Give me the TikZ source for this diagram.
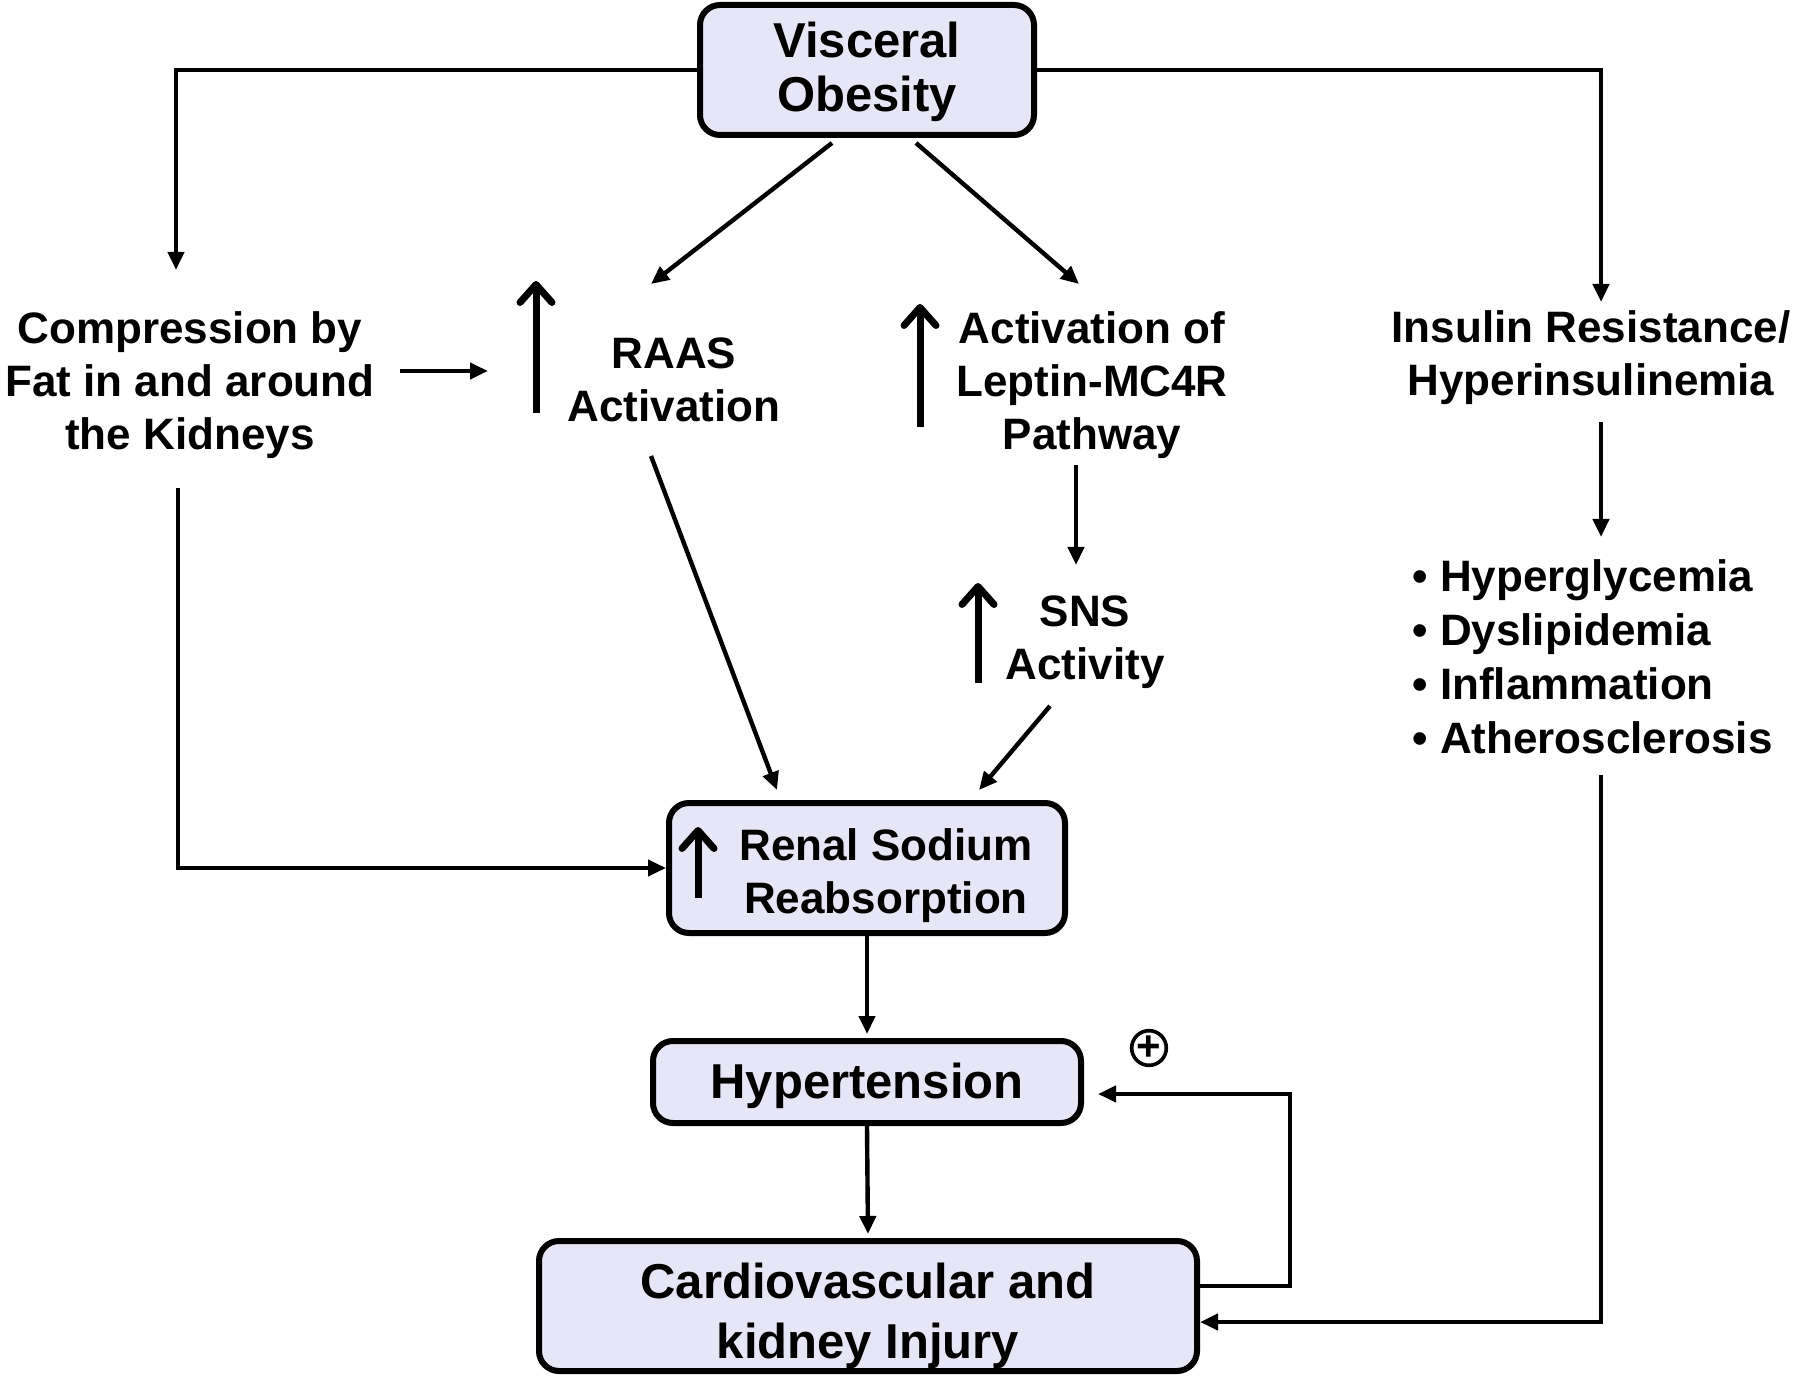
\documentclass[tikz,border=0pt]{standalone}
\usepackage{fontspec}
\setmainfont{Liberation Sans}
\usetikzlibrary{calc}
\usetikzlibrary{arrows.meta}
\definecolor{boxfill}{HTML}{E6E6F6}
\tikzset{
  box/.style={draw, line width=3pt, rounded corners=10pt, fill=boxfill, align=center, inner sep=0pt, font=\fontsize{24.5}{27}\selectfont\bfseries},
  txt/.style={align=center, inner sep=0pt, font=\fontsize{22}{26.5}\selectfont\bfseries},
  arr/.style={-{Triangle[length=9pt,width=8pt]}, line width=2.2pt},
  uparr/.style={-{Straight Barb[length=9pt,width=16pt,round]}, line width=3.5pt}
}
\begin{document}
\begin{tikzpicture}[x=0.5pt, y=-0.5pt]
		\useasboundingbox (0,0) rectangle (1800,1379);
		\draw (867,70) node[box, minimum width=167pt, minimum height=65pt] (vo) {\rule{0pt}{20pt}Visceral\\Obesity};
		\draw (867,868) node[box, font=\fontsize{22}{26.5}\selectfont\bfseries, minimum width=198pt, minimum height=65pt] (renal) {\hspace*{19pt}\rule{0pt}{24pt}Renal Sodium\\\hspace*{19pt}Reabsorption};
		\draw (867,1082) node[box, minimum width=214pt, minimum height=41pt] (hyp) {\rule{0pt}{22pt}Hypertension};
		\draw (868,1306) node[box, font=\fontsize{24.5}{30}\selectfont\bfseries, minimum width=329pt, minimum height=65pt] (cvk) {\rule{0pt}{28pt}Cardiovascular and\\kidney Injury};
		
		\draw (190,385) node[txt] (cmp) {Compression by\\Fat in and around\\the Kidneys};
		\draw (674,380) node[txt] (raas) {RAAS\\Activation};
		\draw (1092,385) node[txt] (lep) {Activation of\\Leptin-MC4R\\Pathway};
		\draw (1591,358) node[txt] (ins) {Insulin Resistance/\\Hyperinsulinemia};
		\draw (1085,642) node[txt] (sns) {SNS\\Activity};
		\draw (1412,657) node[txt, anchor=west, align=left, font=\fontsize{22}{27}\selectfont\bfseries] (lst) {• Hyperglycemia\\• Dyslipidemia\\• Inflammation\\• Atherosclerosis};
		
		\draw[uparr] ($(raas)+(-138,33)$) -- ($(raas)+(-138,-99)$);
		\draw[uparr] ($(lep)+(-172,42)$) -- ($(lep)+(-172,-81)$);
		\draw[uparr] ($(sns)+(-107,41)$) -- ($(sns)+(-107,-59)$);
		\draw[uparr] ($(renal)+(-169,30)$) -- ($(renal)+(-169,-41)$);
		
		\draw[arr] (vo.west) -| ($(cmp)+(-14,-115)$);
		\draw[arr] (vo.east) -| ($(ins)+(10,-56)$);
		\draw[arr] ($(vo.south)+(-35,5)$) -- ($(raas)+(-23,-96)$);
		\draw[arr] ($(vo.south)+(49,5)$) -- ($(lep)+(-13,-101)$);
		\draw[arr] ($(cmp)+(210,-14)$) -- ($(raas)+(-186,-9)$);
		\draw[arr] ($(cmp)+(-12,103)$) |- (renal.west);
		\draw[arr] ($(raas)+(-23,76)$) -- ($(renal)+(-90,-78)$);
		\draw[arr] ($(lep)+(-16,80)$) -- ($(sns)+(-9,-77)$);
		\draw[arr] ($(sns)+(-35,64)$) -- ($(renal)+(112,-78)$);
		\draw[arr] ($(ins)+(10,64)$) -- ($(lst.west)+(189,-120)$);
		\draw[arr] ($(lst.west)+(189,118)$) |- ($(cvk.east)+(0,16)$);
		\draw[arr, shorten >=2pt] (renal.south) -- (hyp.north);
		\draw[arr, shorten >=2pt] (hyp.south) -- (cvk.north);
		\draw[arr] ($(cvk.east)+(0,-20)$) -- ++(90,0) |- ($(hyp.east)+(14,12)$);
		\draw (1149,1048) node[circle, draw, line width=1.8pt, minimum size=17pt, inner sep=0pt, font=\fontsize{21}{21}\selectfont\bfseries] (pls) {+};
	\end{tikzpicture}
\end{document}
